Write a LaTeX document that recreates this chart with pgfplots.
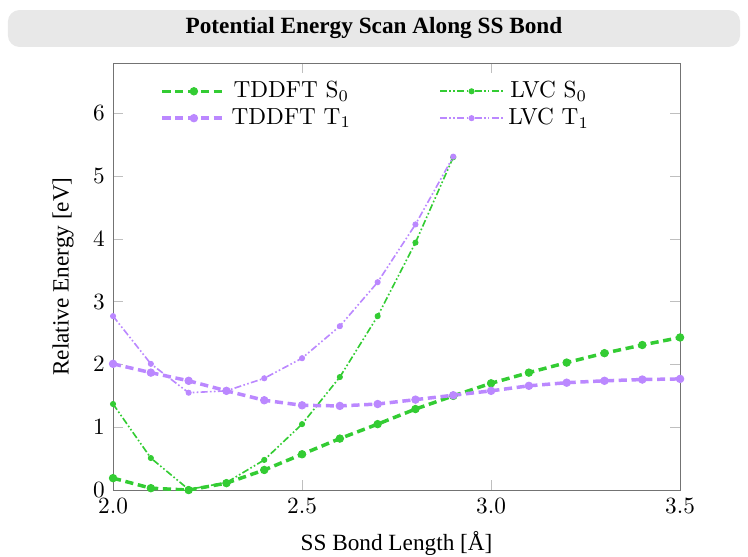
\documentclass[border=0pt]{standalone}
\usepackage{fontspec}
\usepackage{pgfplots}
\pgfplotsset{compat=1.18}
\newfontfamily\labelfont{Liberation Serif}
\definecolor{sgreen}{HTML}{33CC33}
\definecolor{tpurple}{HTML}{BB88FF}

% TDDFT scan
\pgfplotstableread{
r     S0    T1
2.0   0.19  2.01
2.1   0.03  1.87
2.2   0.00  1.74
2.3   0.11  1.58
2.4   0.32  1.43
2.5   0.57  1.35
2.6   0.82  1.34
2.7   1.05  1.37
2.8   1.29  1.44
2.9   1.50  1.51
3.0   1.70  1.58
3.1   1.87  1.66
3.2   2.03  1.71
3.3   2.18  1.74
3.4   2.31  1.76
3.5   2.43  1.77
}\tddft

% LVC model
\pgfplotstableread{
r     S0    T1
2.0   1.37  2.77
2.1   0.51  2.01
2.2   0.01  1.55
2.3   0.12  1.58
2.4   0.48  1.78
2.5   1.05  2.10
2.6   1.80  2.61
2.7   2.77  3.31
2.8   3.94  4.23
2.9   5.30  5.31
}\lvc

\begin{document}
\begin{tikzpicture}[x=1pt,y=1pt]
\useasboundingbox (0,0) rectangle (321.6,239.1);
\fill[black!9, rounded corners=5pt] (3.4,218.9) rectangle (318.2,234.8);
\node[font=\labelfont\bfseries] at (160.8,226.9) {Potential Energy Scan Along SS Bond};
\begin{axis}[
  at={(48.6pt,28.4pt)}, anchor=south west,
  width=243.8pt, height=183.6pt, scale only axis,
  xmin=2, xmax=3.5, ymin=0, ymax=6.8,
  xtick={2,2.5,3,3.5}, ytick={0,1,...,6},
  xticklabel style={/pgf/number format/.cd, fixed, fixed zerofill, precision=1},
  axis line style={black!55},
  major tick style={black!25},
  xlabel={\labelfont SS Bond Length [Å]},
  ylabel={\labelfont Relative Energy [eV]},
  xlabel style={at={(rel axis cs:0.5,0)}, anchor=center, yshift=-22.8pt},
  ylabel style={at={(rel axis cs:0,0.5)}, anchor=center, yshift=21.5pt},
  legend columns=2,
  legend style={draw=none, fill=none, at={(rel axis cs:0.071,0.98)}, anchor=north west,
    /tikz/every even column/.append style={column sep=36pt},
    row sep=-1pt},
  legend image code/.code={\draw[mark repeat=2, mark phase=2]
    plot coordinates {(0pt,0pt) (13.5pt,0pt) (27pt,0pt)};},
  tdd/.style={line width=1.5pt, dash pattern=on 3.5pt off 2pt, mark=*, mark size=1.6pt,
    mark options={solid, line width=0.4pt}},
  lv/.style={line width=0.7pt, densely dash dot dot, mark=*, mark size=1.1pt,
    mark options={solid, line width=0.4pt}},
]
\addplot[tdd, color=sgreen] table[x=r, y=S0] {\tddft};
\addlegendentry{TDDFT S$_0$}
\addplot[lv, color=sgreen] table[x=r, y=S0] {\lvc};
\addlegendentry{LVC S$_0$}
\addplot[tdd, color=tpurple] table[x=r, y=T1] {\tddft};
\addlegendentry{TDDFT T$_1$}
\addplot[lv, color=tpurple] table[x=r, y=T1] {\lvc};
\addlegendentry{LVC T$_1$}
\end{axis}
\end{tikzpicture}
\end{document}
